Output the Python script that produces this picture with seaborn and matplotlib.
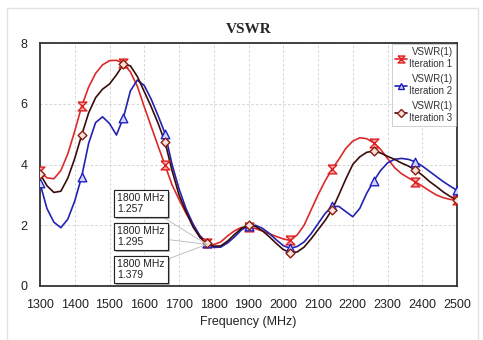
import numpy as np
import pandas as pd
import matplotlib
matplotlib.use("Agg")
import matplotlib.pyplot as plt
import matplotlib.patheffects as pe
from matplotlib.lines import Line2D
import seaborn as sns

# ---------------- data ----------------
freq = [1300, 1320, 1340, 1360, 1380, 1400, 1420, 1440, 1460, 1480,
        1500, 1520, 1540, 1560, 1580, 1600, 1620, 1640, 1660, 1680,
        1700, 1720, 1740, 1760, 1780, 1800, 1820, 1840, 1860, 1880,
        1900, 1920, 1940, 1960, 1980, 2000, 2020, 2040, 2060, 2080,
        2100, 2120, 2140, 2160, 2180, 2200, 2220, 2240, 2260, 2280,
        2300, 2320, 2340, 2360, 2380, 2400, 2420, 2440, 2460, 2480, 2500]

iter1 = [3.78, 3.56, 3.53, 3.80, 4.35, 5.10, 5.92, 6.55, 7.00, 7.28,
         7.42, 7.43, 7.33, 7.05, 6.58, 5.90, 5.25, 4.60, 3.97, 3.33,
         2.85, 2.40, 2.02, 1.66, 1.42, 1.36, 1.45, 1.65, 1.82, 1.93,
         1.93, 1.89, 1.81, 1.72, 1.63, 1.55, 1.50, 1.68, 2.00, 2.50,
         3.00, 3.45, 3.84, 4.17, 4.53, 4.77, 4.88, 4.85, 4.72, 4.50,
         4.20, 3.90, 3.70, 3.56, 3.43, 3.29, 3.14, 3.00, 2.91, 2.85, 2.83]

iter2 = [3.38, 2.55, 2.10, 1.92, 2.20, 2.80, 3.60, 4.70, 5.38, 5.57,
         5.35, 4.97, 5.54, 6.42, 6.78, 6.60, 6.15, 5.60, 5.02, 4.00,
         3.20, 2.55, 2.05, 1.65, 1.42, 1.27, 1.28, 1.42, 1.62, 1.85,
         1.98, 2.00, 1.90, 1.73, 1.52, 1.33, 1.24, 1.30, 1.45, 1.72,
         2.05, 2.38, 2.62, 2.62, 2.45, 2.28, 2.55, 3.05, 3.45, 3.80,
         4.05, 4.17, 4.20, 4.17, 4.09, 3.95, 3.78, 3.61, 3.44, 3.29, 3.15]

iter3 = [3.70, 3.30, 3.08, 3.12, 3.55, 4.20, 4.97, 5.70, 6.20, 6.48,
         6.65, 6.95, 7.30, 7.25, 6.90, 6.40, 5.90, 5.35, 4.73, 3.80,
         3.00, 2.45, 1.95, 1.60, 1.40, 1.31, 1.32, 1.48, 1.70, 1.90,
         2.00, 1.96, 1.82, 1.62, 1.40, 1.20, 1.10, 1.12, 1.28, 1.55,
         1.85, 2.15, 2.50, 3.00, 3.52, 4.00, 4.25, 4.40, 4.45, 4.38,
         4.27, 4.17, 4.05, 3.95, 3.82, 3.65, 3.45, 3.28, 3.10, 2.95, 2.83]

series_names = ["VSWR(1)\nIteration 1", "VSWR(1)\nIteration 2", "VSWR(1)\nIteration 3"]
marker_step = 6  # markers every 120 MHz

x_ticks = [1300, 1400, 1500, 1600, 1700, 1800, 1900, 2000, 2100, 2200, 2300, 2400, 2500]
y_ticks = [0, 2, 4, 6, 8]

anno_freq = 1780
anno_vswr = 1.37
anno_labels = ["1800 MHz\n1.257", "1800 MHz\n1.295", "1800 MHz\n1.379"]
anno_text_pos = [(1522, 2.72), (1522, 1.64), (1522, 0.55)]

# ---------------- style ----------------
sns.set_theme(style="white")
plt.rcParams["font.family"] = ["Liberation Sans", "DejaVu Sans"]

line_colors = ["#dc2a2a", "#2323b0", "#3a0c0c"]
edge_colors = ["#e02020", "#2020c0", "#8a1e10"]
face_colors = ["#f6a8a8", "#d0d6ff", "#f7e2da"]
hourglass = [(-1, 1), (1, 1), (-1, -1), (1, -1), (-1, 1)]
markers = [hourglass, "^", "D"]
msizes = [40, 38, 20]

fig = plt.figure(figsize=(4.83, 3.40), dpi=100)
ax = fig.add_axes([40 / 483, 54 / 340, 417 / 483, 243 / 340])

df = pd.DataFrame({
    "freq": freq * 3,
    "vswr": iter1 + iter2 + iter3,
    "series": sum([[n] * len(freq) for n in series_names], []),
})

for i, name in enumerate(series_names):
    sub = df[df["series"] == name]
    sns.lineplot(data=sub, x="freq", y="vswr", color=line_colors[i], lw=1.2,
                 ax=ax, legend=False, zorder=3 + i)
for i, name in enumerate(series_names):
    sub = df[df["series"] == name].iloc[::marker_step]
    sns.scatterplot(data=sub, x="freq", y="vswr", marker=markers[i], s=msizes[i],
                    facecolor=face_colors[i], edgecolor=edge_colors[i], linewidth=1.0,
                    ax=ax, legend=False, zorder=7 + i)

ax.set_xlim(1300, 2500)
ax.set_ylim(0, 8)
ax.set_xticks(x_ticks)
ax.set_yticks(y_ticks)
ax.tick_params(axis="both", length=0, labelsize=9, colors="#222222", pad=9)
ax.grid(True, color="#cfcfcf", linestyle=(0, (3, 2.5)), lw=0.6)
ax.set_axisbelow(True)
for sp in ax.spines.values():
    sp.set_color("#333333")
    sp.set_linewidth(1.3)

ax.set_xlabel("Frequency (MHz)", fontsize=9, color="#222222", labelpad=4)
ax.set_ylabel("")
ax.set_title("VSWR", fontsize=11, fontweight="bold",
             family=["Liberation Serif", "DejaVu Serif"], pad=7)

# annotations
for lab, pos in zip(anno_labels, anno_text_pos):
    a = ax.annotate(lab, xy=(anno_freq, anno_vswr), xytext=pos, fontsize=7.5,
                    ha="left", va="center", color="#222222", linespacing=1.1,
                    bbox=dict(boxstyle="square,pad=0.3", fc="white", ec="#222222", lw=0.8),
                    arrowprops=dict(arrowstyle="-", color="#c0c0c0", lw=0.7,
                                    shrinkA=0, shrinkB=0),
                    zorder=12)
    a.get_bbox_patch().set_path_effects([
        pe.withSimplePatchShadow(offset=(1.5, -1.5), shadow_rgbFace="#888888", alpha=0.6),
        pe.Normal()])

# legend
handles = [Line2D([0], [0], color=line_colors[i], lw=1.2, marker=markers[i],
                  markersize=5 if i < 2 else 4, markerfacecolor=face_colors[i],
                  markeredgecolor=edge_colors[i]) for i in range(3)]
leg = ax.legend(handles, series_names, loc="upper right", fontsize=7,
                handlelength=1.2, handletextpad=0.3, labelspacing=0.55,
                borderaxespad=0.1, frameon=True, fancybox=False, borderpad=0.35)
leg.get_frame().set_edgecolor("#bbbbbb")
leg.get_frame().set_linewidth(0.6)
leg.set_zorder(20)
for t in leg.get_texts():
    t.set_multialignment("right")
    t.set_color("#333333")

# outer light frame
for xs, ys in [((7, 7), (8, 340)), ((7, 478), (8, 8)), ((478, 478), (8, 340))]:
    fig.add_artist(Line2D([x / 483 for x in xs], [1 - y / 340 for y in ys],
                          color="#e2e2e2", lw=1.0))

fig.savefig("out.png", dpi=100)
